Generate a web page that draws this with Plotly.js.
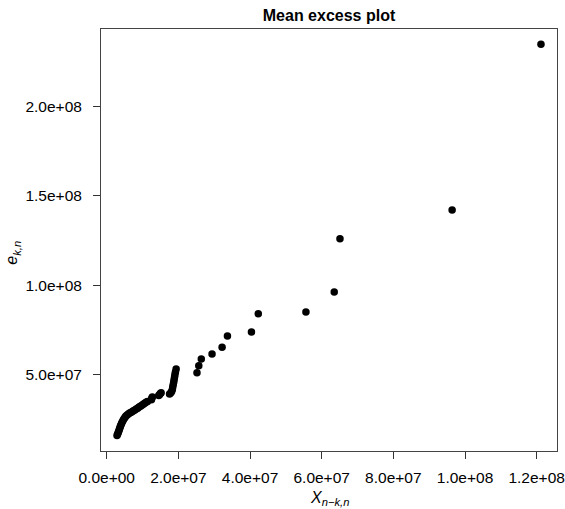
<!DOCTYPE html>
<html>
<head>
<meta charset="utf-8">
<script src="https://cdn.plot.ly/plotly-3.0.1.min.js"></script>
<style>
  html, body { margin: 0; padding: 0; background: #fff; }
  #chart { width: 565px; height: 509px; }
</style>
</head>
<body>
<div id="chart"></div>
<script>
// Thresholds X_{n-k,n} (order statistics) and the empirical mean excess e_{k,n}
const threshold = [
  2.88e6, 3.05e6, 3.22e6, 3.38e6, 3.52e6, 3.66e6, 3.80e6, 3.97e6, 4.14e6, 4.34e6,
  4.56e6, 4.78e6, 5.03e6, 5.31e6, 5.62e6, 5.96e6, 6.32e6, 6.69e6, 7.08e6, 7.47e6,
  7.86e6, 8.25e6, 8.64e6, 9.03e6, 9.43e6, 9.82e6, 1.021e7, 1.060e7, 1.099e7, 1.138e7,
  1.248e7, 1.259e7, 1.273e7, 1.452e7, 1.474e7, 1.497e7, 1.519e7,
  1.754e7, 1.785e7, 1.813e7, 1.832e7, 1.843e7, 1.857e7, 1.871e7, 1.882e7, 1.894e7,
  1.905e7, 1.919e7, 1.938e7,
  2.52e7, 2.57e7, 2.64e7, 2.94e7, 3.22e7, 3.37e7, 4.04e7, 4.23e7, 5.56e7, 6.35e7,
  6.51e7, 9.64e7, 1.212e8
];
const meanExcess = [
  1.57e7, 1.65e7, 1.74e7, 1.82e7, 1.91e7, 1.99e7, 2.07e7, 2.16e7, 2.24e7, 2.33e7,
  2.41e7, 2.49e7, 2.57e7, 2.65e7, 2.71e7, 2.76e7, 2.81e7, 2.86e7, 2.90e7, 2.95e7,
  3.00e7, 3.05e7, 3.10e7, 3.16e7, 3.21e7, 3.27e7, 3.32e7, 3.38e7, 3.43e7, 3.48e7,
  3.57e7, 3.65e7, 3.73e7, 3.81e7, 3.86e7, 3.92e7, 3.96e7,
  3.90e7, 3.95e7, 4.04e7, 4.15e7, 4.29e7, 4.43e7, 4.57e7, 4.71e7, 4.85e7,
  4.99e7, 5.13e7, 5.30e7,
  5.09e7, 5.48e7, 5.86e7, 6.14e7, 6.51e7, 7.15e7, 7.37e7, 8.40e7, 8.49e7, 9.61e7,
  1.260e8, 1.421e8, 2.350e8
];

// Axis ticks
const xTickVals = [0, 2e7, 4e7, 6e7, 8e7, 1e8, 1.2e8];
const xTickText = ["0.0e+00", "2.0e+07", "4.0e+07", "6.0e+07", "8.0e+07", "1.0e+08", "1.2e+08"];
const yTickVals = [5e7, 1e8, 1.5e8, 2e8];
const yTickText = ["5.0e+07", "1.0e+08", "1.5e+08", "2.0e+08"];

const FONT = "Liberation Sans, Arial, Helvetica, sans-serif";

const trace = {
  type: "scatter",
  mode: "markers",
  x: threshold,
  y: meanExcess,
  marker: { color: "#000", size: 7.5, line: { width: 0 } },
  hoverinfo: "x+y"
};

const axisCommon = {
  showgrid: false,
  zeroline: false,
  showline: true,
  mirror: true,
  linecolor: "#444",
  linewidth: 1,
  ticks: "outside",
  ticklen: 7,
  tickwidth: 1,
  tickcolor: "#333",
  tickfont: { family: FONT, size: 15.5, color: "#000" },
  tickmode: "array"
};

const layout = {
  width: 565,
  height: 509,
  margin: { l: 101, r: 8, t: 29, b: 58 },
  paper_bgcolor: "#fff",
  plot_bgcolor: "#fff",
  showlegend: false,
  title: {
    text: "<b>Mean excess plot</b>",
    font: { family: FONT, size: 16, color: "#000" },
    x: 0.5, xref: "paper", xanchor: "center",
    y: 1 - 15 / 509, yref: "container", yanchor: "middle"
  },
  xaxis: Object.assign({}, axisCommon, {
    range: [-1.59e6, 1.2567e8],
    tickvals: xTickVals,
    ticktext: xTickText,
    ticklabelstandoff: 5
  }),
  yaxis: Object.assign({}, axisCommon, {
    range: [7.0e6, 2.4355e8],
    tickvals: yTickVals,
    ticktext: yTickText,
    ticklabelstandoff: 8
  }),
  annotations: [
    {
      text: "<i>X</i><sub><i>n\u2212k,n</i></sub>",
      xref: "paper", yref: "paper",
      x: 0.5, y: -0.112,
      xanchor: "center", yanchor: "middle",
      showarrow: false,
      font: { family: FONT, size: 16, color: "#000" }
    },
    {
      text: "<i>e</i><sub><i>k,n</i></sub>",
      xref: "paper", yref: "paper",
      x: 0, y: 0.47, xshift: -88,
      xanchor: "center", yanchor: "middle",
      textangle: -90,
      showarrow: false,
      font: { family: FONT, size: 16, color: "#000" }
    }
  ]
};

Plotly.newPlot("chart", [trace], layout, { displayModeBar: false, staticPlot: true });
</script>
</body>
</html>
